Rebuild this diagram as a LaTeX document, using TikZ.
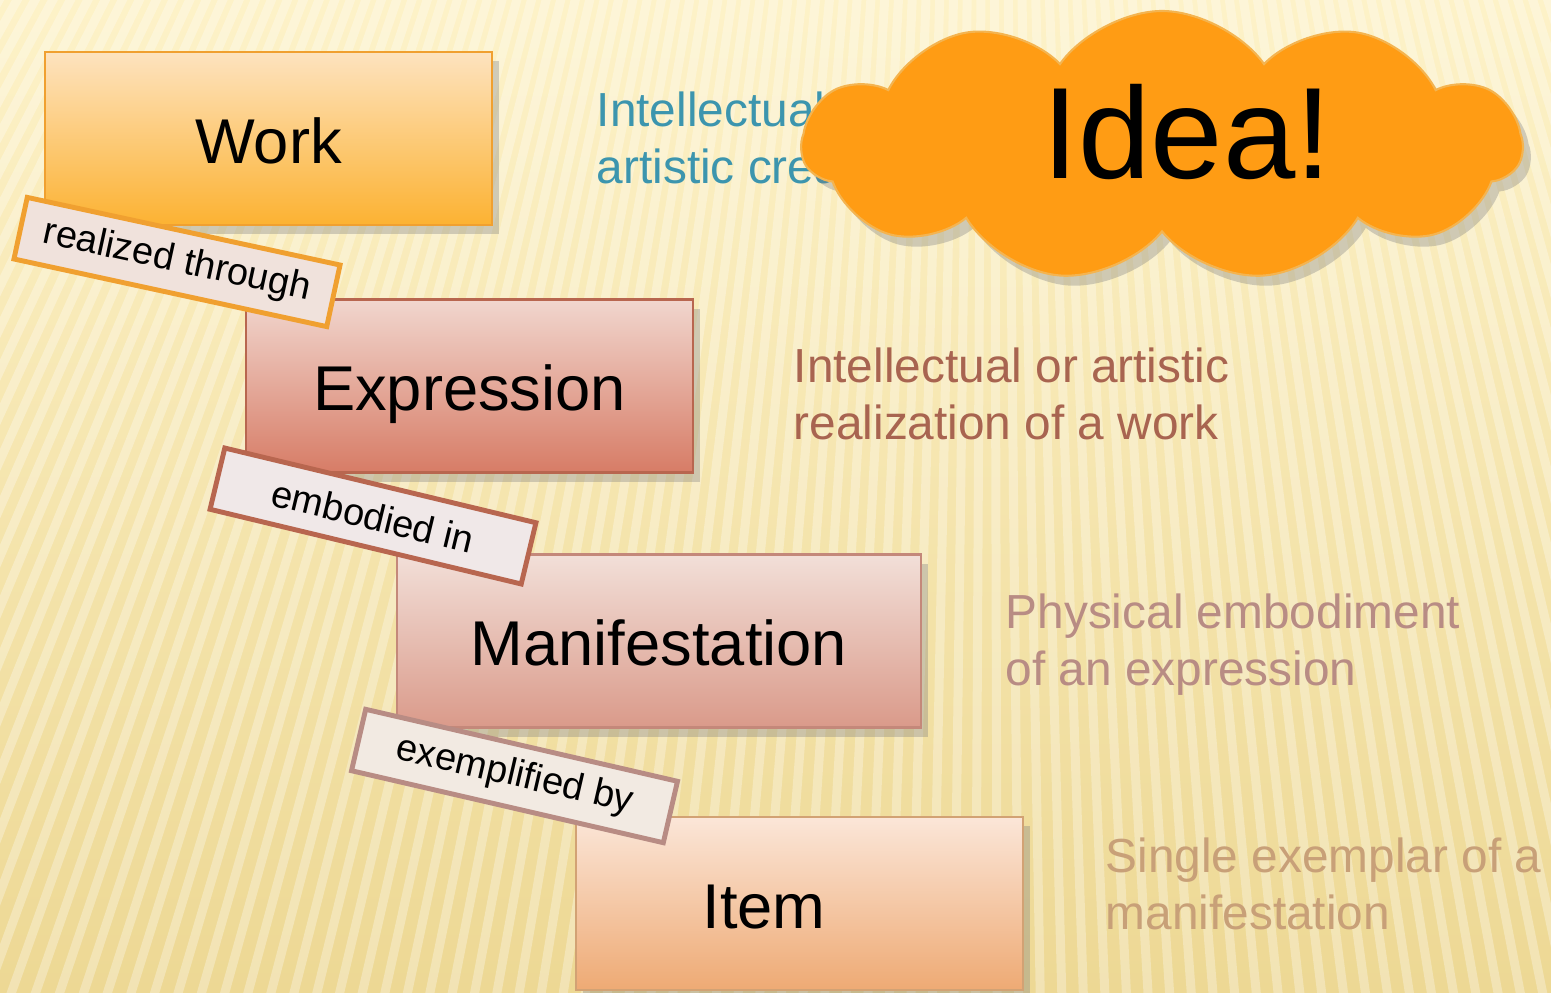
\documentclass[tikz,border=0pt]{standalone}
\usepackage{fontspec}
\setmainfont{Liberation Sans}
\usetikzlibrary{shapes.symbols,shadows}

\definecolor{bgT}{HTML}{FDF2C8}
\definecolor{bgB}{HTML}{EDD894}
\definecolor{workT}{HTML}{FDE3BF}
\definecolor{workB}{HTML}{FCB232}
\definecolor{workD}{HTML}{F0A030}
\definecolor{exprT}{HTML}{F1D6CE}
\definecolor{exprB}{HTML}{D77C66}
\definecolor{exprD}{HTML}{B8664F}
\definecolor{manifT}{HTML}{F2DFD8}
\definecolor{manifB}{HTML}{DA9A8A}
\definecolor{manifD}{HTML}{C4887A}
\definecolor{itemT}{HTML}{FBE6D8}
\definecolor{itemB}{HTML}{EEAA74}
\definecolor{itemD}{HTML}{D2A274}
\definecolor{cloudM}{HTML}{FF9C14}
\definecolor{cloudD}{HTML}{F4B450}
\definecolor{tagA}{HTML}{F0E2DC}
\definecolor{tagB}{HTML}{F0E8E8}
\definecolor{tagC}{HTML}{F2EAE2}
\definecolor{descA}{HTML}{3C95AE}
\definecolor{descB}{HTML}{A86450}
\definecolor{descC}{HTML}{B88C84}
\definecolor{descD}{HTML}{C8A078}

\tikzset{
  entity/.style={draw, line width=0.8pt, minimum width=4.47cm, minimum height=1.73cm,
    inner sep=0pt, font=\fontsize{18}{21}\selectfont, text height=0.61cm, text depth=0.12cm,
    drop shadow={shadow xshift=0.07cm, shadow yshift=-0.09cm, opacity=0.35}},
  relation/.style={draw, line width=1.4pt, minimum width=3.2cm, minimum height=0.63cm,
    inner sep=0pt, font=\fontsize{10.8}{12}\selectfont},
  desc/.style={anchor=west, align=left, inner sep=0pt, font=\fontsize{13.6}{16.2}\selectfont},
  idea/.style={cloud, cloud puffs=11, cloud puff arc=110, aspect=2.6,
    minimum width=7.2cm, minimum height=2.7cm, inner sep=0pt,
    draw=cloudD, line width=0.6pt, fill=cloudM,
    font=\fontsize{37}{40}\selectfont, text height=1cm, text depth=0.35cm,
    drop shadow={shadow xshift=0.08cm, shadow yshift=-0.1cm, opacity=0.35}}
}

\begin{document}
\begin{tikzpicture}
  % 背景
  \useasboundingbox (0,0) rectangle (15.51,9.92);
  \shade[top color=bgT, bottom color=bgB] (0,0) rectangle (15.51,9.92);
  \begin{scope}
    \clip (0,0) rectangle (15.51,9.92);
    \foreach \a in {240,240.45,...,292}
      \draw[white, opacity=0.3, line width=0.09cm] (9.9,27.4) ++(\a:17) -- ++(\a:13);
  \end{scope}

  % 説明
  \node[desc, text=descA] at (5.96,8.54)  (d1) {Intellectual or\\artistic creation};
  \node[desc, text=descB] at (7.93,5.98)  (d2) {Intellectual or artistic\\realization of a work};
  \node[desc, text=descC] at (10.05,3.475) (d3) {Physical embodiment\\of an expression};
  \node[desc, text=descD] at (11.05,1.08) (d4) {Single exemplar of a\\manifestation};

  \node[idea] at (11.62,8.46) (idea) {\hspace{0.5cm}Idea!};

  % 実体
  \node[entity, draw=workD, top color=workT, bottom color=workB] at (2.685,8.535) (work) {Work};
  \node[entity, draw=exprD, top color=exprT, bottom color=exprB] at (4.695,6.06) (expr) {Expression};
  \node[entity, minimum width=5.24cm, draw=manifD, top color=manifT, bottom color=manifB] at (6.59,3.51) (manif) {Manifestation};
  \node[entity, draw=itemD, top color=itemT, bottom color=itemB] at (7.995,0.885) (item) {Item\hspace{0.71cm}\mbox{}};

  % 関係
  \node[relation, rotate=-12.2, draw=workD, fill=tagA] at (1.77,7.30) (real) {realized through};
  \node[relation, rotate=-13.5, draw=exprD, fill=tagB] at (3.73,4.76) (embo) {embodied in};
  \node[relation, rotate=-13, draw=descC, fill=tagC] at (5.145,2.16) (exem) {exemplified by};
\end{tikzpicture}
\end{document}
